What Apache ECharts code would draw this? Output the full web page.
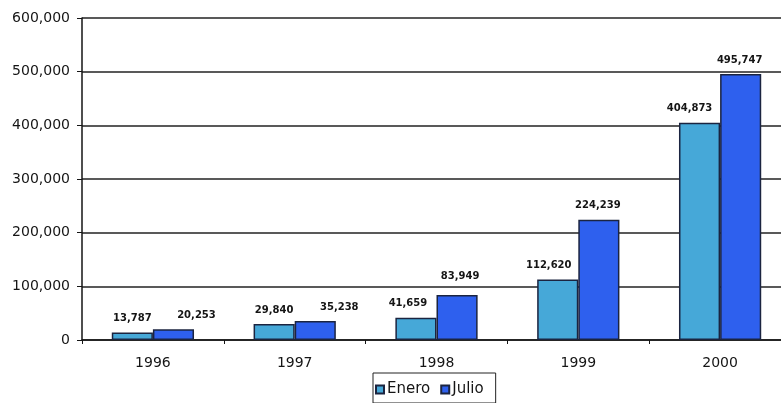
<!DOCTYPE html>
<html>
<head>
<meta charset="utf-8">
<script src="https://cdn.jsdelivr.net/npm/echarts@6/dist/echarts.min.js"></script>
<style>
  html, body { margin: 0; padding: 0; background: #fff; }
  #chart { width: 781px; height: 403px; }
</style>
</head>
<body>
<div id="chart"></div>
<script>
// datos
var years = ['1996', '1997', '1998', '1999', '2000'];
var enero = [13787, 29840, 41659, 112620, 404873];
var julio = [20253, 35238, 83949, 224239, 495747];
var seriesNames = ['Enero', 'Julio'];

(function() {
  var ink = '#151515';
  var font = 'DejaVu Sans, Liberation Sans, Arial, sans-serif';
  var chart = echarts.init(document.getElementById('chart'), null, { renderer: 'canvas' });

  var fmt = function(v) { return echarts.format.addCommas(v); };

  // the original has some labels dragged sideways by hand (px nudges, per year)
  var eneroNudge = [[0, 0], [0, 0], [-8, 0], [-9, 0], [-10, 0]];
  var julioNudge = [[23, 0], [24, 0], [3, -5], [-1, 0], [-1, 0]];

  function withLabels(values, nudge) {
    return values.map(function(v, i) {
      return { value: v, label: { offset: nudge[i] } };
    });
  }

  var labelStyle = {
    show: true,
    position: 'top',
    distance: 9,
    color: ink,
    fontFamily: font,
    fontSize: 10,
    fontWeight: 'bold',
    formatter: function(p) { return fmt(p.value); }
  };

  chart.setOption({
    animation: false,
    textStyle: { fontFamily: font },
    // the plot runs a little past the right edge, as in the original
    grid: { left: 82, right: -10, top: 18, bottom: 63, outerBoundsMode: 'none' },
    legend: {
      data: seriesNames,
      top: 373,
      left: 373,
      itemWidth: 8,
      itemHeight: 8,
      itemGap: 10,
      padding: [9, 12, 6, 2],
      borderColor: '#222',
      borderWidth: 1,
      textStyle: { color: ink, fontSize: 15, fontFamily: font, padding: [0, 0, 0, -2] },
      icon: 'rect'
    },
    xAxis: {
      type: 'category',
      data: years,
      axisLine: { lineStyle: { color: ink, width: 1.5 } },
      axisTick: { show: true, length: 4, lineStyle: { color: ink } },
      axisLabel: { color: ink, fontSize: 14, margin: 16 }
    },
    yAxis: {
      type: 'value',
      min: 0,
      max: 600000,
      interval: 100000,
      axisLine: { show: true, lineStyle: { color: ink, width: 1.5 } },
      axisTick: { show: true, length: 5, lineStyle: { color: ink } },
      axisLabel: { color: ink, fontSize: 14, margin: 12, formatter: fmt },
      splitLine: { lineStyle: { color: '#222', width: 1.5 } }
    },
    series: [
      {
        name: seriesNames[0],
        type: 'bar',
        data: withLabels(enero, eneroNudge),
        barGap: '0%',
        barCategoryGap: '42%',
        itemStyle: { color: '#46a8d8', borderColor: '#1b2440', borderWidth: 1.5 },
        label: labelStyle
      },
      {
        name: seriesNames[1],
        type: 'bar',
        data: withLabels(julio, julioNudge),
        barGap: '0%',
        barCategoryGap: '42%',
        itemStyle: { color: '#2e60ee', borderColor: '#1b2440', borderWidth: 1.5 },
        label: labelStyle
      }
    ]
  });
})();
</script>
</body>
</html>
